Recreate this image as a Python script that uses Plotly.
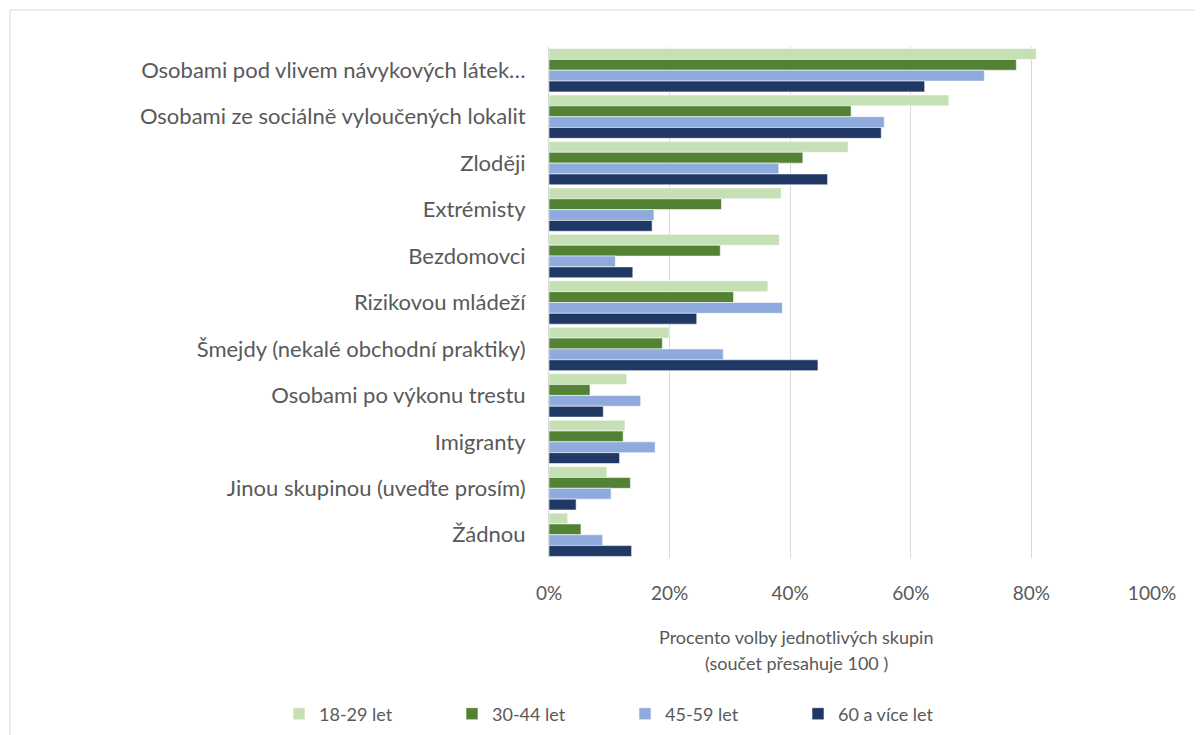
import plotly.graph_objects as go

categories = [
    "Osobami pod vlivem návykových látek…",
    "Osobami ze sociálně vyloučených lokalit",
    "Zloději",
    "Extrémisty",
    "Bezdomovci",
    "Rizikovou mládeží",
    "Šmejdy (nekalé obchodní praktiky)",
    "Osobami po výkonu trestu",
    "Imigranty",
    "Jinou skupinou (uveďte prosím)",
    "Žádnou",
]
series_names = ["18-29 let", "30-44 let", "45-59 let", "60 a více let"]
v_18_29 = [80.8, 66.3, 49.6, 38.5, 38.2, 36.3, 19.9, 12.9, 12.6, 9.6, 3.1]
v_30_44 = [77.5, 50.1, 42.1, 28.6, 28.4, 30.6, 18.8, 6.8, 12.3, 13.5, 5.3]
v_45_59 = [72.2, 55.6, 38.1, 17.4, 11.0, 38.7, 28.9, 15.2, 17.6, 10.3, 8.9]
v_60 = [62.3, 55.1, 46.2, 17.1, 13.9, 24.5, 44.6, 9.0, 11.7, 4.5, 13.7]
tick_vals = [0, 20, 40, 60, 80, 100]
tick_text = ["0%", "20%", "40%", "60%", "80%", "100%"]
axis_title_1 = "Procento volby jednotlivých skupin"
axis_title_2 = "(součet přesahuje 100 )"

colors = ["#C5E0B4", "#548235", "#8FAADC", "#203864"]
values = [v_18_29, v_30_44, v_45_59, v_60]

FONT = "Lato, 'Open Sans', sans-serif"
TXT = "#595959"

fig = go.Figure()
for name, vals, col in zip(series_names, values, colors):
    fig.add_trace(go.Bar(
        y=categories, x=vals, name=name, orientation="h",
        marker=dict(color=col, line=dict(color="rgba(255,255,255,0.55)", width=1)),
    ))

OFF = 8  # page body margin
W, H = 1203 - OFF, 735 - OFF
# target screen coordinates of plot area
SL, SR, ST, SB = 549, 1152, 47, 558
L, T = SL - OFF, ST - OFF
R = W - (SR - OFF)
B = H - (SB - OFF)
pw, ph = SR - SL, SB - ST

def px_x(px):
    return (px - SL) / pw

def px_y(py):
    return (SB - py) / ph

fig.update_layout(
    width=W, height=H,
    margin=dict(l=L, r=R, t=T, b=B, autoexpand=False),
    paper_bgcolor="white", plot_bgcolor="white",
    barmode="group", bargap=0.067, bargroupgap=0,
    font=dict(family=FONT, color=TXT, size=18),
    showlegend=True,
    legend=dict(
        orientation="h", x=px_x(279), xanchor="left", y=px_y(714), yanchor="middle",
        entrywidth=128, entrywidthmode="pixels",
        font=dict(size=18, color=TXT, family=FONT), traceorder="normal",
    ),
    xaxis=dict(
        range=[0, 100], tickvals=tick_vals, ticktext=tick_text,
        showgrid=True, gridcolor="#D9D9D9", gridwidth=1,
        zeroline=False, showline=False, ticks="",
        tickfont=dict(size=19, color=TXT, family=FONT),
        ticklabelstandoff=22, fixedrange=True,
    ),
    yaxis=dict(
        autorange="reversed", showgrid=False, showline=True, linecolor="#D9D9D9",
        linewidth=1, ticks="", tickfont=dict(size=22, color=TXT, family=FONT),
        ticklabelstandoff=18,
    ),
    annotations=[
        dict(text=axis_title_1, xref="paper", yref="paper", x=px_x(796), y=px_y(637),
             xanchor="center", yanchor="middle", showarrow=False,
             font=dict(size=18, color=TXT, family=FONT)),
        dict(text=axis_title_2, xref="paper", yref="paper", x=px_x(796), y=px_y(663),
             xanchor="center", yanchor="middle", showarrow=False,
             font=dict(size=18, color=TXT, family=FONT)),
    ],
    shapes=[
        dict(type="rect", xref="paper", yref="paper",
             x0=px_x(10), x1=px_x(1215), y0=px_y(745), y1=px_y(10),
             line=dict(color="#D9D9D9", width=1), fillcolor="rgba(0,0,0,0)", layer="below"),
    ],
)

fig.write_html("out.html")
